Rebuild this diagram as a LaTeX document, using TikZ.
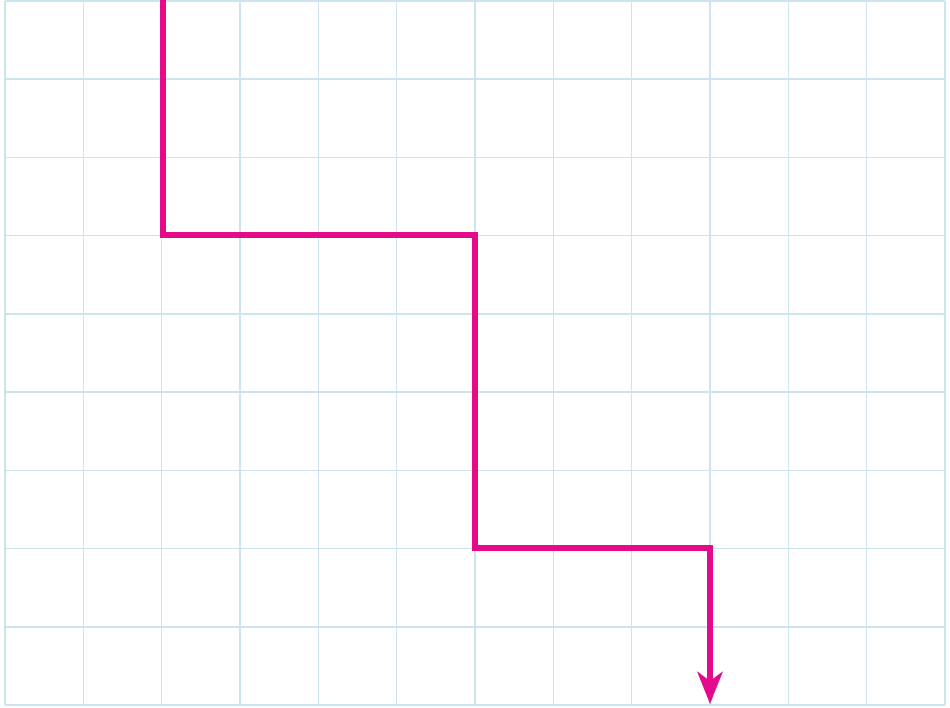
\documentclass[tikz,border=0pt]{standalone}
\usetikzlibrary{arrows.meta}
\definecolor{gridblue}{RGB}{204,228,238}
\definecolor{pathpink}{RGB}{228,10,140}
\tikzset{
  gridline/.style={draw=gridblue, line width=1.5pt},
  stairpath/.style={draw=pathpink, line width=6.5pt, line join=miter,
    -{Stealth[length=32pt,width=25pt,inset=9pt]}}
}
\begin{document}
\begin{tikzpicture}[x=1pt,y=-1pt]
  \useasboundingbox (0,0) rectangle (950,707);
  \fill[white] (0,0) rectangle (950,707);
  \foreach \i in {0,...,12} {
    \draw[gridline] ({5+\i*78.33},1) -- ({5+\i*78.33},705);
  }
  \foreach \j in {0,...,9} {
    \draw[gridline] (5,{1+\j*78.22}) -- (945,{1+\j*78.22});
  }
  \coordinate (start) at (163,-3);
  \coordinate (c1) at (163,235);
  \coordinate (c2) at (475,235);
  \coordinate (c3) at (475,548);
  \coordinate (c4) at (710,548);
  \coordinate (tip) at (710,704);
  \draw[stairpath] (start) -- (c1) -- (c2) -- (c3) -- (c4) -- (tip);
\end{tikzpicture}
\end{document}
